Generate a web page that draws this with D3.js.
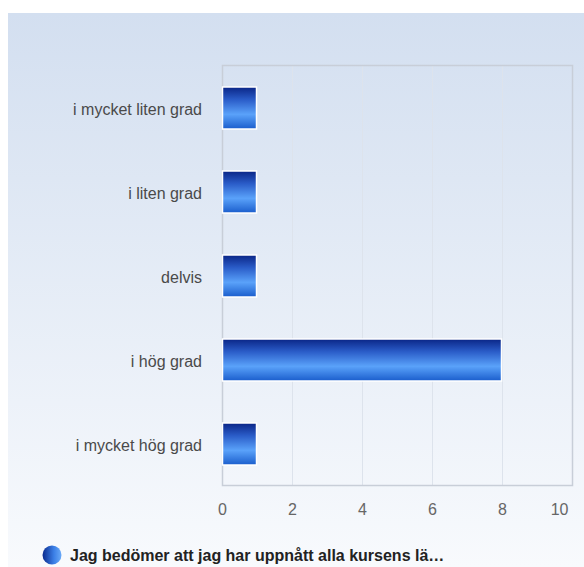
<!DOCTYPE html>
<html><head><meta charset="utf-8">
<script src="https://cdn.jsdelivr.net/npm/d3@7"></script>
<style>body{margin:0;background:#fff}svg{display:block}</style>
</head><body>
<script>
const categories = ["i mycket liten grad","i liten grad","delvis","i hög grad","i mycket hög grad"];
const values = [1,1,1,8,1];
const xTicks = [0,2,4,6,8,10];
const seriesName = "Jag bedömer att jag har uppnått alla kursens lä…";

const W=584,H=567;
const svg=d3.select("body").append("svg").attr("width",W).attr("height",H);
const defs=svg.append("defs");
const bg=defs.append("linearGradient").attr("id","bg").attr("x1",0).attr("y1",0).attr("x2",0).attr("y2",1);
bg.append("stop").attr("offset","0%").attr("stop-color","#d3dff0");
bg.append("stop").attr("offset","100%").attr("stop-color","#f8fafd");
const bar=defs.append("linearGradient").attr("id","bar").attr("x1",0).attr("y1",0).attr("x2",0).attr("y2",1);
[["0%","#0a2586"],["30%","#2a5cc8"],["65%","#5aa2fa"],["100%","#1a5dcc"]].forEach(s=>bar.append("stop").attr("offset",s[0]).attr("stop-color",s[1]));
const leg=defs.append("linearGradient").attr("id","leg").attr("x1",0).attr("y1",0).attr("x2",1).attr("y2",0);
[["0%","#0a2a8e"],["60%","#3b7fe6"],["100%","#6aaaf8"]].forEach(s=>leg.append("stop").attr("offset",s[0]).attr("stop-color",s[1]));

svg.append("rect").attr("x",8).attr("y",13).attr("width",W-8).attr("height",H-13).attr("fill","url(#bg)");

const m={l:222,r:572,t:65,b:485};
const x=d3.scaleLinear().domain([0,10]).range([m.l,m.r]);
const y=d3.scaleBand().domain(categories).range([m.t,m.b]).paddingInner(0.5).paddingOuter(0.25);

// grid
svg.append("g").selectAll("line").data(xTicks).join("line")
  .attr("x1",d=>x(d)+0.5).attr("x2",d=>x(d)+0.5).attr("y1",m.t).attr("y2",m.b)
  .attr("stroke","#dde3ec").attr("stroke-width",1);
svg.append("rect").attr("x",m.l+0.5).attr("y",m.t+0.5).attr("width",m.r-m.l).attr("height",m.b-m.t)
  .attr("fill","none").attr("stroke","#c8ced8").attr("stroke-width",1.5);

// bars
svg.append("g").selectAll("rect").data(values).join("rect")
  .attr("x",x(0)+0.5).attr("y",(d,i)=>y(categories[i])+1)
  .attr("width",d=>x(d)-x(0)-1).attr("height",y.bandwidth())
  .attr("fill","url(#bar)").attr("stroke","#fff").attr("stroke-width",1.5);

const font="Liberation Sans, Arial, sans-serif";
// x axis
const xa=svg.append("g").attr("transform",`translate(0,${m.b})`)
  .call(d3.axisBottom(x).tickValues(xTicks).tickSize(0).tickPadding(19).tickFormat(d3.format("d")));
xa.select(".domain").remove();
xa.selectAll("text").attr("font-family",font).attr("font-size",16).attr("fill","#666");
xa.selectAll(".tick").filter(d=>d===xTicks[xTicks.length-1]).select("text")
  .attr("text-anchor","end").attr("x",-4);

// y axis
const ya=svg.append("g").attr("transform",`translate(${m.l},0)`)
  .call(d3.axisLeft(y).tickSize(0).tickPadding(20));
ya.select(".domain").remove();
ya.selectAll("text").attr("font-family",font).attr("font-size",16).attr("fill","#4a4a4a").attr("dy","0.5em");

// legend
svg.append("circle").attr("cx",52).attr("cy",555).attr("r",9.5).attr("fill","url(#leg)");
svg.append("text").attr("x",70).attr("y",561).text(seriesName)
  .attr("font-family",font).attr("font-size",16).attr("font-weight","bold").attr("fill","#222");
</script>
</body></html>
